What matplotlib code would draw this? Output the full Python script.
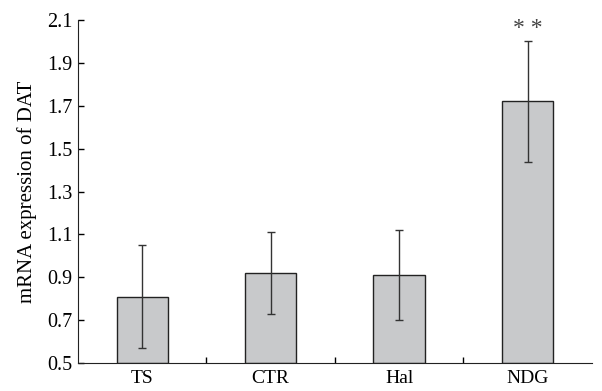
import numpy as np
import matplotlib.pyplot as plt

plt.rcParams['font.family'] = ['Liberation Serif', 'DejaVu Serif']

# Dados do gráfico
grupos = ['TS', 'CTR', 'Hal', 'NDG']
medias = [0.81, 0.92, 0.91, 1.72]
erros = [0.24, 0.19, 0.21, 0.28]
marcas = ['', '', '', '* *']

fig = plt.figure(figsize=(6.02, 3.91), dpi=100)
ax = fig.add_axes([0.1296, 0.0716, 0.8534, 0.8772])

x = np.arange(len(grupos))
ax.bar(x, np.array(medias) - 0.5, bottom=0.5, width=0.4, color='#c8c9cb',
       edgecolor='#222222', linewidth=1.0, zorder=2)
ax.errorbar(x, medias, yerr=erros, fmt='none', ecolor='#333333',
            elinewidth=1.0, capsize=3, capthick=1.0, zorder=3)

for xi, m, e, txt in zip(x, medias, erros, marcas):
    if txt:
        ax.text(xi, m + e + 0.01, txt, ha='center', va='bottom',
                fontsize=17, color='#444444')

ax.set_xlim(-0.5, 3.5)
ax.set_ylim(0.5, 2.1)
ax.set_yticks(np.arange(0.5, 2.11, 0.2))
ax.set_yticklabels([f'{v:.1f}' for v in np.arange(0.5, 2.11, 0.2)])
ax.set_xticks(x)
ax.set_xticklabels(grupos)
ax.set_xticks([0.5, 1.5, 2.5], minor=True)

ax.tick_params(axis='x', which='major', length=0, labelsize=14, pad=5)
ax.tick_params(axis='x', which='minor', direction='in', length=4, width=1)
ax.tick_params(axis='y', direction='in', length=4, width=1, labelsize=14.5, pad=4)

ax.spines['top'].set_visible(False)
ax.spines['right'].set_visible(False)
ax.spines['left'].set_color('#222222')
ax.spines['bottom'].set_color('#222222')

ax.set_ylabel('mRNA expression of DAT', fontsize=15, labelpad=7)

plt.savefig('out.png', dpi=100)
